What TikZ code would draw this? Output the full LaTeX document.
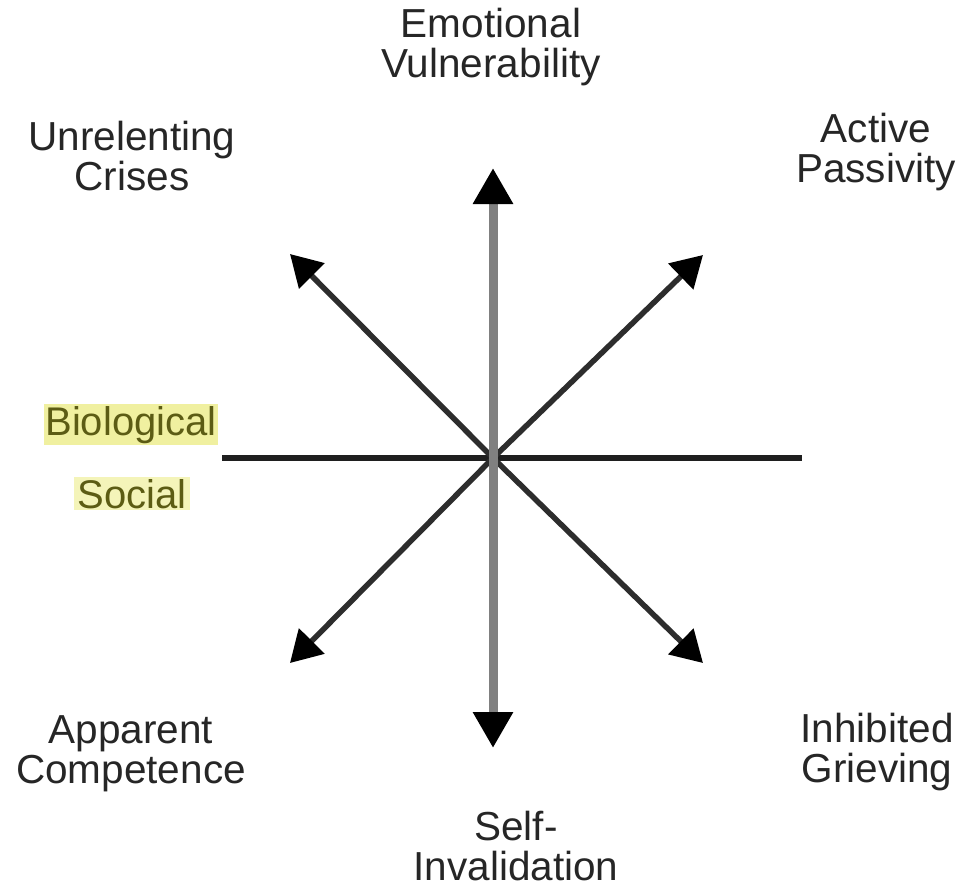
\documentclass[tikz,border=0pt]{standalone}
\usepackage{fontspec}
\setmainfont{Liberation Sans}
\usetikzlibrary{arrows.meta}
\definecolor{hilite}{RGB}{240,240,160}
\definecolor{hilitesoft}{RGB}{244,244,185}
\definecolor{olivetext}{RGB}{92,92,20}
\definecolor{axisgray}{RGB}{128,128,128}
\definecolor{raydark}{RGB}{45,45,45}
\tikzset{
  label/.style={font=\fontsize{40.5}{40}\selectfont, align=center, inner sep=0pt, anchor=base, text=black!85},
  tag/.style={font=\fontsize{40}{40}\selectfont, inner ysep=2pt, anchor=base, text=olivetext},
  vaxis/.style={line width=9pt, draw=axisgray, -{Triangle[length=36pt,width=38pt,color=black]}},
  ray/.style={line width=5.5pt, draw=raydark, -{Triangle[length=31pt,width=35pt,color=black]}},
  hline/.style={line width=6pt, draw=black!88}
}
\begin{document}
\begin{tikzpicture}[x=1pt,y=-1pt]
  \useasboundingbox[fill=white] (0,0) rectangle (960,889);

  % hub and ray end points
  \coordinate (c) at (493,458);
  \coordinate (hl) at (222,458);
  \coordinate (hr) at (802,458);
  \coordinate (up) at (493,168);
  \coordinate (dn) at (493,748);
  \coordinate (ul) at (290,254);
  \coordinate (ur) at (703,255);
  \coordinate (dl) at (290,663);
  \coordinate (dr) at (703,663);

  % horizontal divider
  \draw[hline] (hl) -- (hr);

  % eight directions
  \draw[ray] (c) -- (ul);
  \draw[ray] (c) -- (ur);
  \draw[ray] (c) -- (dl);
  \draw[ray] (c) -- (dr);
  \draw[vaxis] (c) -- (up);
  \draw[vaxis] (c) -- (dn);

  % labels (placed by the baseline of their last line)
  \node[label] (ev) at (491,77) {Emotional\\Vulnerability};
  \node[label] (uc) at (132,190) {Unrelenting\\Crises};
  \node[label] (ap) at (876,182) {Active\\Passivity};
  \node[label] (ac) at (131,783) {Apparent\\Competence};
  \node[label] (ig) at (877,782) {Inhibited\\Grieving};
  \node[label] (si) at (516,880) {Self-\\Invalidation};

  % highlighted side tags
  \node[tag, fill=hilite, inner xsep=1pt] (bio) at (131,435) {Biological};
  \node[tag, fill=hilitesoft, inner xsep=4pt] (soc) at (132,508) {Social};
\end{tikzpicture}
\end{document}
